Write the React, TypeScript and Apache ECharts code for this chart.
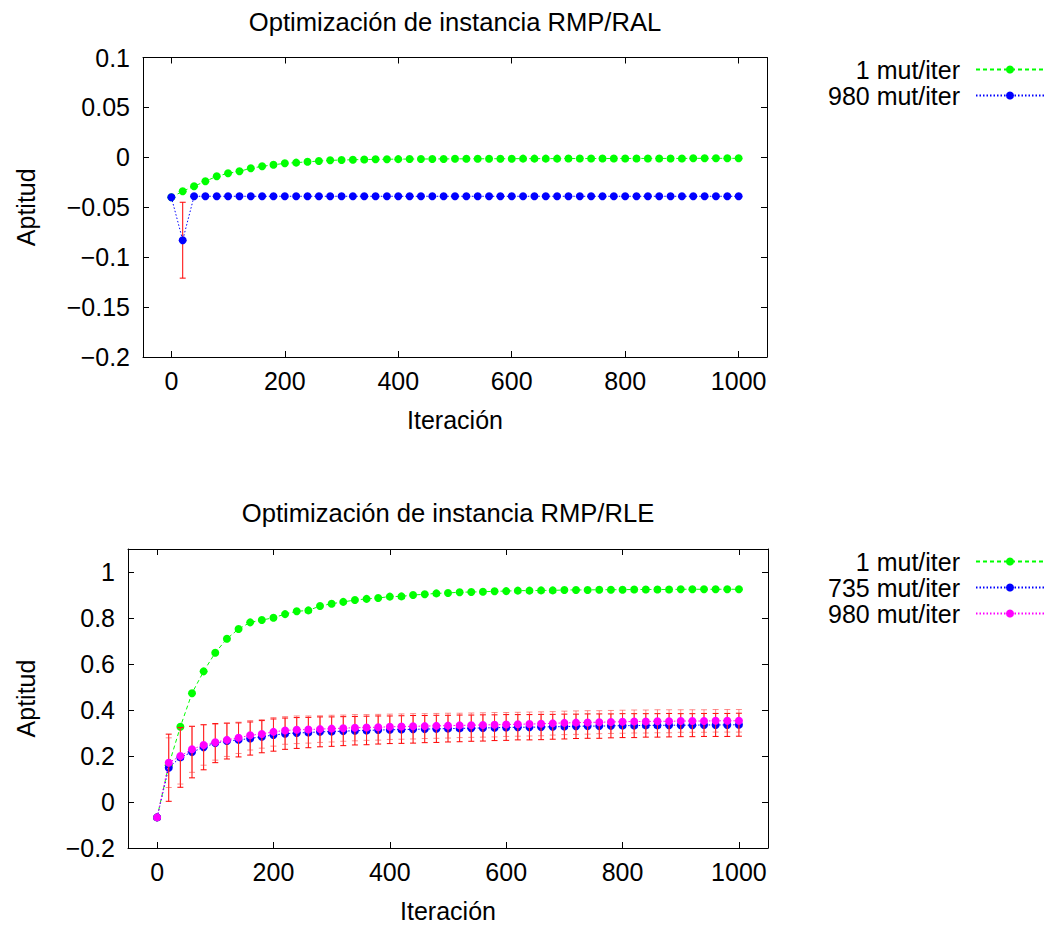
import React, { useEffect, useRef } from "react";
import * as echarts from "echarts";

// Iteration at which every sample was taken
const iterations = [
  0, 20, 40, 60, 80, 100, 120, 140, 160, 180,
  200, 220, 240, 260, 280, 300, 320, 340, 360, 380,
  400, 420, 440, 460, 480, 500, 520, 540, 560, 580,
  600, 620, 640, 660, 680, 700, 720, 740, 760, 780,
  800, 820, 840, 860, 880, 900, 920, 940, 960, 980, 1000,
];

// RMP/RAL instance
const ralOne = [
  -0.04, -0.034, -0.029, -0.024, -0.019, -0.016, -0.014, -0.011, -0.009, -0.0075,
  -0.006, -0.0053, -0.0045, -0.0037, -0.003, -0.0027, -0.0024, -0.0022, -0.002, -0.0019,
  -0.0018, -0.0017, -0.0017, -0.0016, -0.0016, -0.0015, -0.0015, -0.0015, -0.0014, -0.0014,
  -0.0014, -0.0013, -0.0013, -0.0013, -0.0013, -0.0012, -0.0012, -0.0012, -0.0012, -0.0012,
  -0.0011, -0.0011, -0.0011, -0.0011, -0.0011, -0.0011, -0.001, -0.001, -0.001, -0.001, -0.001,
];
const ralNineEighty = [
  -0.04, -0.083, -0.039, -0.039, -0.039, -0.039, -0.039, -0.039, -0.039, -0.039,
  -0.039, -0.039, -0.039, -0.039, -0.039, -0.039, -0.039, -0.039, -0.039, -0.039,
  -0.039, -0.039, -0.039, -0.039, -0.039, -0.039, -0.039, -0.039, -0.039, -0.039,
  -0.039, -0.039, -0.039, -0.039, -0.039, -0.039, -0.039, -0.039, -0.039, -0.039,
  -0.039, -0.039, -0.039, -0.039, -0.039, -0.039, -0.039, -0.039, -0.039, -0.039, -0.039,
];
const ralNineEightyErr = [
  0, 0.038, 0, 0, 0, 0, 0, 0, 0, 0,
  0, 0, 0, 0, 0, 0, 0, 0, 0, 0,
  0, 0, 0, 0, 0, 0, 0, 0, 0, 0,
  0, 0, 0, 0, 0, 0, 0, 0, 0, 0,
  0, 0, 0, 0, 0, 0, 0, 0, 0, 0, 0,
];

// RMP/RLE instance
const rleOne = [
  -0.067, 0.16, 0.327, 0.473, 0.568, 0.649, 0.71, 0.752, 0.781, 0.791,
  0.801, 0.817, 0.829, 0.833, 0.852, 0.862, 0.87, 0.878, 0.883, 0.887,
  0.893, 0.894, 0.9, 0.903, 0.907, 0.909, 0.912, 0.913, 0.914, 0.916,
  0.917, 0.919, 0.919, 0.92, 0.92, 0.922, 0.922, 0.922, 0.923, 0.923,
  0.923, 0.924, 0.924, 0.924, 0.924, 0.925, 0.925, 0.925, 0.925, 0.925, 0.925,
];
const rleSevenThirtyFive = [
  -0.067, 0.149, 0.194, 0.217, 0.238, 0.256, 0.265, 0.27, 0.276, 0.284,
  0.291, 0.297, 0.3, 0.302, 0.305, 0.306, 0.308, 0.31, 0.311, 0.313,
  0.314, 0.315, 0.316, 0.317, 0.318, 0.319, 0.32, 0.321, 0.322, 0.323,
  0.324, 0.325, 0.325, 0.326, 0.327, 0.328, 0.329, 0.33, 0.33, 0.331,
  0.332, 0.332, 0.333, 0.333, 0.334, 0.334, 0.334, 0.335, 0.335, 0.335, 0.336,
];
const rleSevenThirtyFiveErr = [
  0, 0.146, 0.13, 0.112, 0.098, 0.085, 0.078, 0.074, 0.072, 0.07,
  0.07, 0.068, 0.067, 0.066, 0.065, 0.064, 0.063, 0.062, 0.062, 0.061,
  0.06, 0.06, 0.06, 0.059, 0.059, 0.058, 0.058, 0.057, 0.057, 0.056,
  0.056, 0.055, 0.055, 0.055, 0.054, 0.054, 0.053, 0.053, 0.053, 0.052,
  0.052, 0.052, 0.051, 0.051, 0.051, 0.05, 0.05, 0.05, 0.05, 0.05, 0.05,
];
const rleNineEighty = [
  -0.067, 0.171, 0.2, 0.229, 0.248, 0.26, 0.27, 0.279, 0.29, 0.296,
  0.305, 0.311, 0.314, 0.315, 0.317, 0.319, 0.321, 0.323, 0.324, 0.325,
  0.327, 0.328, 0.329, 0.33, 0.331, 0.332, 0.333, 0.334, 0.335, 0.336,
  0.337, 0.338, 0.339, 0.34, 0.342, 0.344, 0.345, 0.346, 0.347, 0.348,
  0.349, 0.35, 0.35, 0.351, 0.351, 0.352, 0.352, 0.352, 0.353, 0.353, 0.353,
];
const rleNineEightyErr = [
  0, 0.108, 0.122, 0.1, 0.088, 0.078, 0.072, 0.068, 0.064, 0.062,
  0.062, 0.06, 0.06, 0.059, 0.058, 0.058, 0.057, 0.057, 0.056, 0.056,
  0.055, 0.055, 0.055, 0.054, 0.054, 0.054, 0.053, 0.053, 0.053, 0.053,
  0.052, 0.052, 0.052, 0.052, 0.051, 0.051, 0.051, 0.051, 0.05, 0.05,
  0.05, 0.05, 0.05, 0.05, 0.05, 0.049, 0.049, 0.049, 0.049, 0.049, 0.049,
];

// Tick positions
const xTicks = [0, 200, 400, 600, 800, 1000];
const ralYTicks = [-0.2, -0.15, -0.1, -0.05, 0, 0.05, 0.1];
const rleYTicks = [-0.2, 0, 0.2, 0.4, 0.6, 0.8, 1];

const titles = ["Optimización de instancia RMP/RAL", "Optimización de instancia RMP/RLE"];
const xName = "Iteración";
const yName = "Aptitud";

const ralLegend = ["RAL 1", "RAL 980"];
const rleLegend = ["RLE 1", "RLE 735", "RLE 980"];
const legendLabels: Record<string, string> = {
  "RAL 1": "1 mut/iter",
  "RAL 980": "980 mut/iter",
  "RLE 1": "1 mut/iter",
  "RLE 735": "735 mut/iter",
  "RLE 980": "980 mut/iter",
};

const FONT = "'Liberation Sans', Arial, Helvetica, sans-serif";
const FS = 25;

const pairs = (ys: number[]) => iterations.map((x, i) => [x, ys[i]]);
const bars = (ys: number[], err: number[]) =>
  iterations
    .map((x, i) => [x, ys[i] - err[i], ys[i] + err[i], err[i]])
    .filter((d) => d[3] > 0);

const fmt = (v: number) => String(Math.round(v * 100) / 100).replace("-", "\u2212");

const errorBars = (color: string, cap: number) => (_params: any, api: any) => {
  const x = api.value(0);
  const lo = api.coord([x, api.value(1)]);
  const hi = api.coord([x, api.value(2)]);
  const style = { stroke: color, lineWidth: 1 };
  return {
    type: "group",
    children: [
      { type: "line", shape: { x1: lo[0], y1: lo[1], x2: hi[0], y2: hi[1] }, style },
      { type: "line", shape: { x1: lo[0] - cap, y1: lo[1], x2: lo[0] + cap, y2: lo[1] }, style },
      { type: "line", shape: { x1: hi[0] - cap, y1: hi[1], x2: hi[0] + cap, y2: hi[1] }, style },
    ],
  };
};

const textBase = { color: "#000", fontFamily: FONT, fontSize: FS };

function xAxes(gridIndex: number) {
  const common = {
    type: "value",
    gridIndex,
    min: -50,
    max: 1050,
    splitLine: { show: false },
    axisLine: { show: true, onZero: false, lineStyle: { color: "#000", width: 1 } },
    axisTick: { show: true, inside: true, length: 6, customValues: xTicks, lineStyle: { color: "#000" } },
  };
  return [
    {
      ...common,
      position: "bottom",
      name: xName,
      nameLocation: "middle",
      nameGap: 50,
      nameTextStyle: textBase,
      axisLabel: { ...textBase, margin: 11, customValues: xTicks, formatter: fmt },
    },
    { ...common, position: "top", axisLabel: { show: false } },
  ];
}

function yAxes(gridIndex: number, min: number, max: number, ticks: number[], nameGap: number) {
  const common = {
    type: "value",
    gridIndex,
    min,
    max,
    splitLine: { show: false },
    axisLine: { show: true, onZero: false, lineStyle: { color: "#000", width: 1 } },
    axisTick: { show: true, inside: true, length: 6, customValues: ticks, lineStyle: { color: "#000" } },
  };
  return [
    {
      ...common,
      position: "left",
      name: yName,
      nameLocation: "middle",
      nameGap,
      nameTextStyle: textBase,
      axisLabel: { ...textBase, margin: 13, customValues: ticks, formatter: fmt },
    },
    { ...common, position: "right", axisLabel: { show: false } },
  ];
}

function lineSeries(name: string, data: number[], color: string, dash: number[], xi: number, yi: number, z: number) {
  return {
    type: "line",
    name,
    xAxisIndex: xi,
    yAxisIndex: yi,
    data: pairs(data),
    symbol: "circle",
    symbolSize: 8,
    showSymbol: true,
    showAllSymbol: true,
    itemStyle: { color, borderWidth: 0 },
    lineStyle: { color, width: 1, type: dash },
    z,
    silent: true,
  };
}

function errSeries(data: number[], err: number[], color: string, xi: number, yi: number, z: number) {
  return {
    type: "custom",
    xAxisIndex: xi,
    yAxisIndex: yi,
    data: bars(data, err),
    encode: { x: 0, y: [1, 2] },
    renderItem: errorBars(color, 3),
    z,
    silent: true,
  };
}

function legendFor(names: string[], top: number) {
  return {
    data: names,
    orient: "vertical",
    align: "right",
    right: 6,
    top,
    padding: 0,
    itemWidth: 68,
    itemHeight: 10,
    itemGap: 1,
    selectedMode: false,
    formatter: (n: string) => legendLabels[n],
    textStyle: { ...textBase, lineHeight: 25, padding: [0, 11, 0, 0] },
  };
}

export default function App() {
  const ref = useRef<HTMLDivElement>(null);

  useEffect(() => {
    document.body.style.margin = "0";
    if (!ref.current) return;
    const chart = echarts.init(ref.current, null, { renderer: "svg" });
    chart.setOption({
      animation: false,
      backgroundColor: "#fff",
      grid: [
        { left: 143, right: 284, top: 57.5, height: 299.5, containLabel: false },
        { left: 128, right: 283, top: 549, height: 299, containLabel: false },
      ],
      xAxis: [...xAxes(0), ...xAxes(1)],
      yAxis: [...yAxes(0, -0.2, 0.1, ralYTicks, 105), ...yAxes(1, -0.2, 1.1, rleYTicks, 90)],
      legend: [legendFor(ralLegend, 57), legendFor(rleLegend, 549)],
      graphic: [
        {
          type: "text",
          x: 455,
          y: 22,
          style: { text: titles[0], font: `25.6px ${FONT}`, fill: "#000", textAlign: "center", textVerticalAlign: "middle" },
        },
        {
          type: "text",
          x: 448,
          y: 513,
          style: { text: titles[1], font: `25.6px ${FONT}`, fill: "#000", textAlign: "center", textVerticalAlign: "middle" },
        },
      ],
      series: [
        lineSeries("RAL 1", ralOne, "#00ff00", [4, 3], 0, 0, 2),
        errSeries(ralNineEighty, ralNineEightyErr, "#ff0000", 0, 0, 3),
        lineSeries("RAL 980", ralNineEighty, "#0000ff", [1.5, 2], 0, 0, 4),

        lineSeries("RLE 1", rleOne, "#00ff00", [4, 3], 2, 2, 2),
        lineSeries("RLE 735", rleSevenThirtyFive, "#0000ff", [1.5, 2], 2, 2, 3),
        errSeries(rleSevenThirtyFive, rleSevenThirtyFiveErr, "#ff0000", 2, 2, 4),
        errSeries(rleNineEighty, rleNineEightyErr, "rgba(255,60,60,0.6)", 2, 2, 4),
        lineSeries("RLE 980", rleNineEighty, "#ff00ff", [1.5, 2], 2, 2, 5),
      ],
    });
    return () => chart.dispose();
  }, []);

  return <div ref={ref} style={{ width: 1051, height: 926 }} />;
}
